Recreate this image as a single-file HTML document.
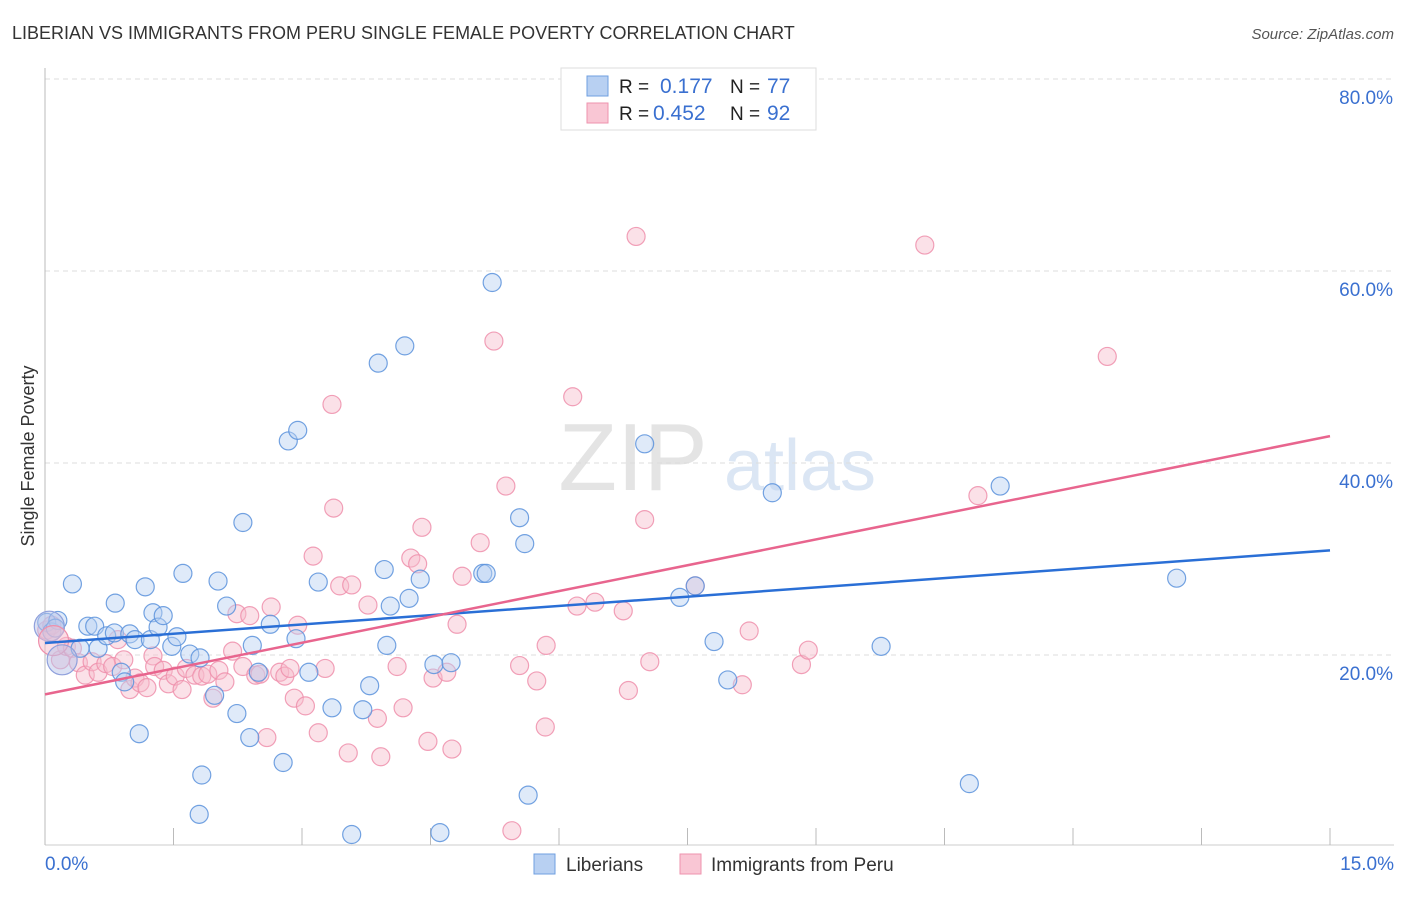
<!DOCTYPE html>
<html><head><meta charset="utf-8"><style>
body{margin:0;background:#fff;font-family:"Liberation Sans",sans-serif;}
svg text{font-family:"Liberation Sans",sans-serif;}
</style></head><body>
<svg id="chart" width="1406" height="892">
<text x="12" y="39" font-size="18" fill="#333">LIBERIAN VS IMMIGRANTS FROM PERU SINGLE FEMALE POVERTY CORRELATION CHART</text>
<text x="1394" y="39" font-size="15" fill="#555" font-style="italic" text-anchor="end">Source: ZipAtlas.com</text>
<text transform="translate(34,456) rotate(-90)" font-size="18" fill="#333" text-anchor="middle">Single Female Poverty</text>
<g><text x="633" y="490" font-size="96" fill="#e4e4e4" font-family="Liberation Serif" text-anchor="middle">ZIP</text><text x="800" y="490" font-size="72" fill="#dbe6f4" text-anchor="middle">atlas</text></g>
<g id="grid"></g><g id="axes"></g><g id="pts"></g><g id="lines"></g>
<g>
<rect x="561" y="68" width="255" height="62" fill="#fff" stroke="#ddd"/>
<rect x="587" y="76" width="21" height="20" fill="#b8d0f2" stroke="#6f9fe0"/>
<rect x="587" y="103" width="21" height="20" fill="#f9c6d4" stroke="#ee93ae"/>
<text x="619" y="93" font-size="19" fill="#222">R = </text><text x="660" y="93" font-size="21" fill="#3a70d0">0.177</text>
<text x="730" y="93" font-size="19" fill="#222">N = </text><text x="767" y="93" font-size="21" fill="#3a70d0">77</text>
<text x="619" y="120" font-size="19" fill="#222">R = </text><text x="653" y="120" font-size="21" fill="#3a70d0">0.452</text>
<text x="730" y="120" font-size="19" fill="#222">N = </text><text x="767" y="120" font-size="21" fill="#3a70d0">92</text>
</g>
<g>
<rect x="534" y="854" width="21" height="20" fill="#b8d0f2" stroke="#6f9fe0"/>
<text x="566" y="871" font-size="19" fill="#333">Liberians</text>
<rect x="680" y="854" width="21" height="20" fill="#f9c6d4" stroke="#ee93ae"/>
<text x="711" y="871" font-size="19" fill="#333">Immigrants from Peru</text>
</g>
</svg>
<script>
const yTicks=[20,40,60,80];
const blueX=[.02,.08,.15,.12,.32,.50,.58,.41,.62,.72,.82,.81,.89,.93,.99,1.05,1.10,1.17,1.23,1.26,1.32,1.38,1.48,1.54,1.61,1.69,1.81,1.83,1.80,1.98,2.02,2.12,2.24,2.31,2.39,2.42,2.49,2.63,2.78,2.84,2.95,2.93,3.08,3.19,3.35,3.58,3.71,3.79,3.89,3.96,3.99,4.03,4.20,4.25,4.38,4.54,4.61,4.74,5.11,5.15,5.22,5.54,5.60,5.64,7.00,7.41,7.59,7.81,7.97,8.49,9.76,10.79,11.15,13.21];
const blueY=[23.4,22.4,23.6,22.8,27.4,23.0,23.0,20.7,20.7,22.0,25.4,22.3,18.2,17.2,22.2,21.6,11.8,27.1,21.6,24.4,22.9,24.1,20.9,21.9,28.5,20.1,19.7,7.5,3.4,15.8,27.7,25.1,13.9,33.8,11.4,21.0,18.2,23.2,8.8,42.3,43.4,21.7,18.2,27.6,14.5,1.3,14.3,16.8,50.4,28.9,21.0,25.1,52.2,25.9,27.9,19.0,1.5,19.2,28.5,28.5,58.8,34.3,31.6,5.4,42.0,26.0,27.2,21.4,17.4,36.9,20.9,6.6,37.6,28.0];
const pinkX=[.02,.08,.18,.25,.32,.39,.47,.55,.62,.71,.79,.85,.92,.99,1.05,1.11,1.19,1.26,1.28,1.38,1.44,1.52,1.60,1.65,1.75,1.83,1.90,1.96,2.03,2.10,2.19,2.24,2.31,2.39,2.46,2.51,2.59,2.64,2.74,2.80,2.86,2.91,2.95,3.04,3.13,3.19,3.27,3.35,3.37,3.44,3.54,3.58,3.77,3.88,3.92,4.11,4.18,4.27,4.35,4.40,4.47,4.53,4.69,4.75,4.81,4.87,5.08,5.24,5.38,5.54,5.74,5.84,5.85,6.16,6.21,6.42,6.75,6.81,6.90,7.00,7.06,7.59,8.14,8.22,8.83,8.91,10.27,10.89,12.40,5.45];
const pinkY=[22.6,23.1,19.5,20.9,20.7,19.2,17.9,19.3,18.2,19.1,18.8,21.6,19.5,16.4,17.6,17.1,16.6,19.9,18.8,18.4,17.0,17.8,16.4,18.6,17.9,17.8,18.0,15.5,18.4,17.2,20.4,24.3,18.8,24.1,17.9,18.0,11.4,25.0,18.2,17.8,18.6,15.5,23.1,14.7,30.3,11.9,18.6,46.1,35.3,27.2,9.8,27.3,25.2,13.4,9.4,18.8,14.5,30.1,29.5,33.3,11.0,17.6,18.2,10.2,23.2,28.2,31.7,52.7,37.6,18.9,17.3,12.5,21.0,46.9,25.1,25.5,24.6,16.3,63.6,34.1,19.3,27.2,16.9,22.5,19.0,20.5,62.7,36.6,51.1,1.7];
const bigX=[0.05,0.1,0.2];
const bigY=[23.0,21.5,19.5];
const blueLine=[21.25,30.9];
const pinkLine=[15.9,42.8];
const NS='http://www.w3.org/2000/svg';
const sx=v=>45+v/15*1285;
const sy=v=>847-v*9.6;
function mk(t,a,p){const e=document.createElementNS(NS,t);for(const k in a)e.setAttribute(k,a[k]);p.appendChild(e);return e;}
const grid=document.getElementById('grid'),axes=document.getElementById('axes'),pts=document.getElementById('pts'),lines=document.getElementById('lines');
yTicks.forEach(t=>{
 const l=mk('line',{x1:45,x2:1394,y1:sy(t),y2:sy(t),stroke:'#ddd','stroke-dasharray':'5,4'},grid);
 
 
 const tx=mk('text',{x:1393,y:sy(t)+25,'font-size':19,fill:'#3a70d0','text-anchor':'end'},grid);
 tx.textContent=t.toFixed(1)+'%';
 
 
});
const ax=mk('line',{x1:45,x2:45,y1:68,y2:845,stroke:'#bbb'},axes);


const bx=mk('line',{x1:45,x2:1394,y1:845,y2:845,stroke:'#ccc'},axes);


for(let i=0;i<=10;i++){const tk=mk('line',{x1:sx(i*1.5),x2:sx(i*1.5),y1:828,y2:845,stroke:'#bbb'},axes);
 
 }
[[0,'0.0%','start',45],[15,'15.0%','end',1394]].forEach(d=>{const t=mk('text',{x:d[3],y:870,'font-size':19,fill:'#3a70d0','text-anchor':d[2]},axes);t.textContent=d[1];
 
 });
function dots(X,Y,fill,stroke,name,r){X.forEach((x,i)=>{const c=mk('circle',{cx:sx(x),cy:sy(Y[i]),r:r,fill:fill,'fill-opacity':0.45,stroke:stroke,'stroke-opacity':0.85,'stroke-width':1.2},pts);
 
 });}
dots(pinkX,pinkY,'#f7bccb','#ef8fab','peru-point',9);
dots(blueX,blueY,'#b8d0f2','#5a92dc','liberian-point',9);
bigX.forEach((x,i)=>{const c=mk('circle',{cx:sx(x),cy:sy(bigY[i]),r:15,fill:i%2?'#f7bccb':'#b8c4ea','fill-opacity':0.5,stroke:i%2?'#ef8fab':'#8fa0dc','stroke-width':1.2},pts);
 
 });
const bl=mk('line',{x1:sx(0),y1:sy(blueLine[0]),x2:sx(15),y2:sy(blueLine[1]),stroke:'#2a6fd6','stroke-width':2.5},lines);


const pl=mk('line',{x1:sx(0),y1:sy(pinkLine[0]),x2:sx(15),y2:sy(pinkLine[1]),stroke:'#e8658e','stroke-width':2.5},lines);


</script>
</body></html>
